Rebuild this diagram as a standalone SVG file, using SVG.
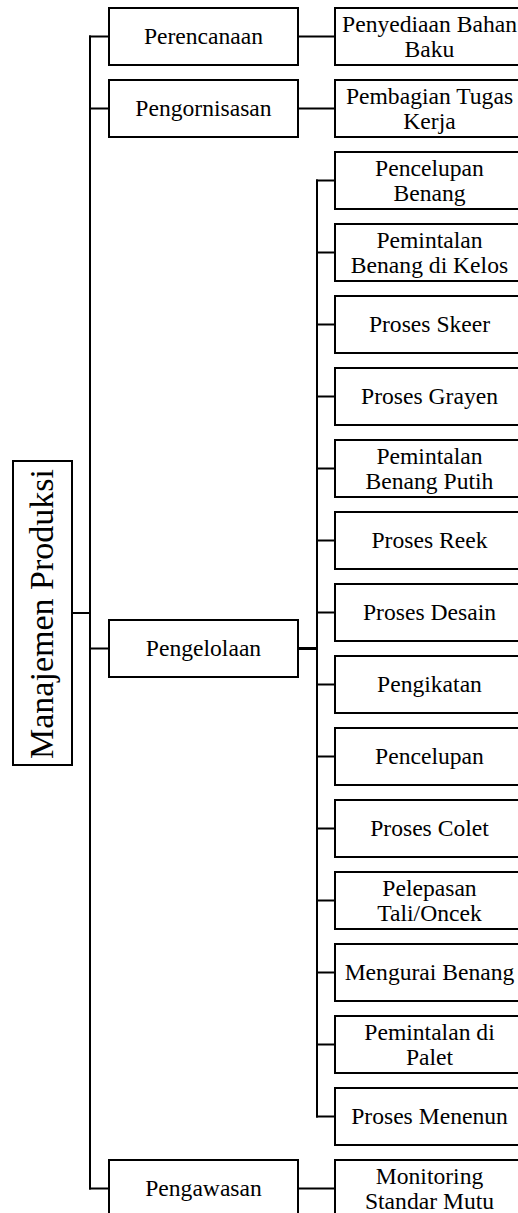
<svg xmlns="http://www.w3.org/2000/svg" width="518" height="1213" viewBox="0 0 518 1213">
<style>
rect.b{fill:#fff;stroke:#000;stroke-width:2}
text{font-family:"Liberation Serif","Times New Roman",serif;font-size:23.6px;fill:#000;text-anchor:middle}
.c line{stroke:#000;stroke-width:2;fill:none}
</style>
<rect width="518" height="1213" fill="#fff"/>
<g class="c" id="connectors">
<line x1="90" y1="35.5" x2="90" y2="1189.5"/>
<line x1="72" y1="613" x2="90" y2="613"/>
<line x1="89" y1="36.5" x2="109" y2="36.5"/>
<line x1="89" y1="108.5" x2="109" y2="108.5"/>
<line x1="89" y1="648.5" x2="109" y2="648.5"/>
<line x1="89" y1="1188.5" x2="109" y2="1188.5"/>
<line x1="298" y1="36.5" x2="335" y2="36.5"/>
<line x1="298" y1="108.5" x2="335" y2="108.5"/>
<line x1="298" y1="1188.5" x2="335" y2="1188.5"/>
<line x1="298" y1="648.5" x2="317" y2="648.5" style="stroke-width:3"/>
<line x1="317" y1="179.5" x2="317" y2="1117.5"/>
<line x1="316" y1="180.5" x2="335" y2="180.5"/>
<line x1="316" y1="252.5" x2="335" y2="252.5"/>
<line x1="316" y1="324.5" x2="335" y2="324.5"/>
<line x1="316" y1="396.5" x2="335" y2="396.5"/>
<line x1="316" y1="468.5" x2="335" y2="468.5"/>
<line x1="316" y1="540.5" x2="335" y2="540.5"/>
<line x1="316" y1="612.5" x2="335" y2="612.5"/>
<line x1="316" y1="684.5" x2="335" y2="684.5"/>
<line x1="316" y1="756.5" x2="335" y2="756.5"/>
<line x1="316" y1="828.5" x2="335" y2="828.5"/>
<line x1="316" y1="900.5" x2="335" y2="900.5"/>
<line x1="316" y1="972.5" x2="335" y2="972.5"/>
<line x1="316" y1="1044.5" x2="335" y2="1044.5"/>
<line x1="316" y1="1116.5" x2="335" y2="1116.5"/>
</g>
<g id="root"><rect class="b" x="13" y="461" width="59" height="304"/><text transform="translate(42.5,614) rotate(-90)" y="10" style="font-size:34px">Manajemen Produksi</text></g>
<g id="perencanaan"><rect class="b" x="109" y="8" width="189" height="57"/><text x="203.5" y="44">Perencanaan</text></g>
<g id="pengornisasan"><rect class="b" x="109" y="80" width="189" height="57"/><text x="203.5" y="116">Pengornisasan</text></g>
<g id="pengelolaan"><rect class="b" x="109" y="620" width="189" height="57"/><text x="203.5" y="656">Pengelolaan</text></g>
<g id="pengawasan"><rect class="b" x="109" y="1160" width="189" height="57"/><text x="203.5" y="1196">Pengawasan</text></g>
<g id="penyediaan"><rect class="b" x="335" y="8" width="189" height="57"/><text x="429.5" y="32">Penyediaan Bahan</text><text x="429.5" y="57">Baku</text></g>
<g id="pembagian"><rect class="b" x="335" y="80" width="189" height="57"/><text x="429.5" y="104">Pembagian Tugas</text><text x="429.5" y="129">Kerja</text></g>
<g id="p1"><rect class="b" x="335" y="152" width="189" height="57"/><text x="429.5" y="176">Pencelupan</text><text x="429.5" y="201">Benang</text></g>
<g id="p2"><rect class="b" x="335" y="224" width="189" height="57"/><text x="429.5" y="248">Pemintalan</text><text x="429.5" y="273">Benang di Kelos</text></g>
<g id="p3"><rect class="b" x="335" y="296" width="189" height="57"/><text x="429.5" y="332">Proses Skeer</text></g>
<g id="p4"><rect class="b" x="335" y="368" width="189" height="57"/><text x="429.5" y="404">Proses Grayen</text></g>
<g id="p5"><rect class="b" x="335" y="440" width="189" height="57"/><text x="429.5" y="464">Pemintalan</text><text x="429.5" y="489">Benang Putih</text></g>
<g id="p6"><rect class="b" x="335" y="512" width="189" height="57"/><text x="429.5" y="548">Proses Reek</text></g>
<g id="p7"><rect class="b" x="335" y="584" width="189" height="57"/><text x="429.5" y="620">Proses Desain</text></g>
<g id="p8"><rect class="b" x="335" y="656" width="189" height="57"/><text x="429.5" y="692">Pengikatan</text></g>
<g id="p9"><rect class="b" x="335" y="728" width="189" height="57"/><text x="429.5" y="764">Pencelupan</text></g>
<g id="p10"><rect class="b" x="335" y="800" width="189" height="57"/><text x="429.5" y="836">Proses Colet</text></g>
<g id="p11"><rect class="b" x="335" y="872" width="189" height="57"/><text x="429.5" y="896">Pelepasan</text><text x="429.5" y="921">Tali/Oncek</text></g>
<g id="p12"><rect class="b" x="335" y="944" width="189" height="57"/><text x="429.5" y="980">Mengurai Benang</text></g>
<g id="p13"><rect class="b" x="335" y="1016" width="189" height="57"/><text x="429.5" y="1040">Pemintalan di</text><text x="429.5" y="1065">Palet</text></g>
<g id="p14"><rect class="b" x="335" y="1088" width="189" height="57"/><text x="429.5" y="1124">Proses Menenun</text></g>
<g id="monitoring"><rect class="b" x="335" y="1160" width="189" height="57"/><text x="429.5" y="1184">Monitoring</text><text x="429.5" y="1209">Standar Mutu</text></g>
</svg>
